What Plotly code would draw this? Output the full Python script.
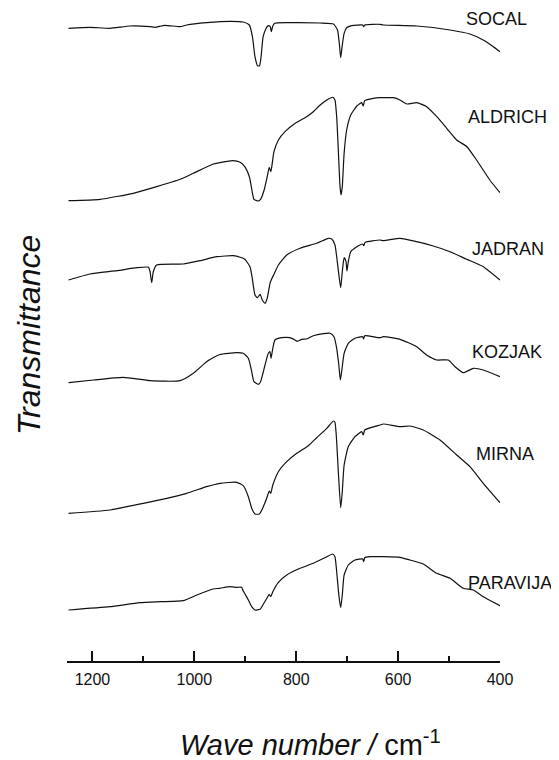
import plotly.graph_objects as go

# ---- data: IR spectra (wavenumber / cm-1, transmittance in arbitrary stacked units) ----
names = ["SOCAL", "ALDRICH", "JADRAN", "KOZJAK", "MIRNA", "PARAVIJA"]

socal_wn = [1247, 1205, 1166, 1126, 1087, 1077, 1058, 1028, 1015, 976, 930, 904, 892, 886, 881, 876, 872,
            869, 865, 859, 855, 851, 849, 846, 842, 819, 753, 727, 719, 715.5, 712.7, 710, 706, 701, 691,
            669.5, 667.6, 665.6, 635.6, 629, 563.5, 498, 459, 433, 413, 400]
socal_t = [632.7, 633.7, 632.7, 635, 634.3, 633.7, 635.7, 634.3, 636, 638.3, 639.7, 639, 636, 624.3, 604.3,
           595.3, 595.3, 604.3, 624.3, 632.7, 635.3, 634.3, 629.3, 635, 637.7, 638.3, 638, 637, 631, 617.7,
           603.3, 614.3, 627.7, 633.3, 635.3, 636, 634.3, 636, 636.7, 636, 635, 631, 627, 621, 614.3, 609.3]

aldrich_wn = [1247, 1185, 1120, 1074, 1028, 1002, 963, 950, 925, 910, 901, 892, 887, 883, 874.5, 870, 863,
              857, 853, 850, 848, 843.7, 835, 822, 802, 779.5, 766.5, 753, 740, 728, 724, 720.6, 717.4, 714,
              712, 709.6, 706, 701, 693, 681, 671.5, 668.4, 665.6, 648.7, 635.6, 629, 609.5, 596.3, 583,
              563.5, 544, 524, 504.6, 485, 465, 446, 420, 400]
aldrich_t = [460.3, 461.7, 467.7, 474.3, 481.7, 487.7, 497, 498.3, 500.3, 498.7, 494.3, 484.3, 471, 461.7,
             460, 461.7, 471, 484.3, 493.7, 489.3, 494.3, 509.3, 521, 529.3, 537.7, 544.3, 549.3, 556, 561,
             563.7, 561, 544.3, 511, 474.3, 466, 474.3, 507.7, 531, 546, 555, 558.3, 555, 560.3, 562.7,
             563.3, 563.3, 563.3, 561, 557, 558.3, 554.3, 544.3, 532.7, 521, 514.3, 501, 481, 468.3]

jadran_wn = [1247, 1205, 1152, 1113, 1090, 1087, 1083.7, 1080.6, 1074, 1022, 989, 956, 923.5, 910, 901,
             890.8, 886.3, 881, 876.4, 871, 866.6, 861.3, 857, 851.5, 847.6, 843.7, 835, 818.7, 792.6,
             759.8, 737, 730.4, 724, 719.4, 715.5, 712.7, 709.6, 706, 702.3, 700.4, 697.8, 693, 681,
             669.5, 667.6, 664.4, 635.6, 629, 596.3, 563.5, 531, 498, 465.4, 432.8, 400]
jadran_t = [381, 387, 390.3, 393.3, 393.7, 389.3, 378.3, 389.3, 396, 397, 400.3, 404.3, 405.3, 403.7, 401.7,
            394.3, 382.7, 366, 363.3, 366.7, 361, 357.7, 362.7, 377.7, 382.7, 386.7, 396, 406, 412.7,
            417.7, 422.7, 422, 416, 399.3, 382.7, 373.3, 389.3, 403.3, 399.3, 390, 399.3, 409.3, 414.3,
            417, 415.3, 418.7, 421, 420.3, 422.7, 419.3, 415, 409.3, 401.7, 394.3, 381]

kozjak_wn = [1247, 1198, 1139.5, 1087, 1028, 1002, 976, 950, 917, 904, 894, 887.4, 883, 874.5, 870, 861.3,
             854.8, 851.5, 849.5, 846, 841.7, 828.5, 812.3, 802.4, 797.9, 789.3, 779.5, 766.5, 746.9,
             733.7, 725.9, 720.6, 716.4, 713.3, 710, 706, 697.8, 684.7, 669.5, 667.6, 665.6, 635.6, 629,
             596.3, 563.5, 544, 524.3, 501.5, 488.4, 472, 452.4, 432.8, 400]
kozjak_t = [278.3, 281, 283.7, 280.3, 280.3, 287.7, 299.3, 306.5, 308.3, 307.7, 302.7, 289.3, 279.3, 276.7,
            279.3, 296, 307.7, 309.3, 302.7, 312.7, 321, 323.3, 323.3, 321, 319.7, 321.7, 322, 325.3,
            327.3, 327.7, 324.3, 312.7, 296, 281, 292.7, 307.7, 317.7, 322.7, 324.3, 322, 325.3, 323.3,
            324.3, 321.7, 314.3, 306, 301, 301, 294.3, 288.3, 292.7, 291, 284.3]

mirna_wn = [1247, 1166, 1100, 1054, 1015, 976, 950, 917, 904, 894, 887.4, 881, 872.5, 866, 858, 853, 850,
            846, 835, 818.7, 799, 776.3, 759.8, 740, 727, 724, 720.6, 717.4, 712.7, 709.6, 706, 697.8,
            684.7, 671.5, 668.4, 665.6, 635.6, 629, 596.3, 576.7, 550.6, 517.8, 485, 459, 432.8, 400]
mirna_t = [147.7, 151, 157.7, 162.7, 167.7, 174.3, 177.7, 178.7, 175.3, 164.3, 152.7, 147, 147, 152.7,
           162.7, 170, 167.7, 176, 189.3, 199.3, 207.7, 215.3, 223.3, 232.7, 240, 238.7, 219.3, 189.3,
           153.3, 169.3, 196, 214.3, 224.3, 229.3, 226, 231, 236, 237, 234.3, 235, 231, 221, 206, 194.3,
           177.7, 158.3]

paravija_wn = [1247, 1166, 1107, 1067, 1022, 995, 963, 950, 930, 917, 907, 905, 894, 887.4, 881, 871,
               864.7, 857, 853, 850, 846, 835, 818.7, 792.6, 766.5, 740, 728.4, 724, 720.6, 716.4, 712.7,
               709.6, 706, 697.8, 684.7, 669.5, 667.6, 665.6, 655, 635.6, 629, 596.3, 576.7, 550.6,
               524.3, 498, 472, 452.4, 432.8, 400]
paravija_t = [51, 54.3, 58.3, 59.3, 60.3, 66, 72, 72.7, 74.3, 73.7, 73.7, 71, 61, 54.3, 51, 51.7, 56.7,
              63.3, 66.7, 64.3, 69.3, 78.7, 86, 92.7, 97.7, 104.3, 107, 104.3, 89.3, 66, 53.3, 66, 86, 96,
              101, 102, 99.3, 103.3, 104.3, 104.3, 104.3, 103.7, 101, 97, 87.7, 82.7, 72.7, 71, 64.3, 55.3]

series = [(socal_wn, socal_t), (aldrich_wn, aldrich_t), (jadran_wn, jadran_t),
          (kozjak_wn, kozjak_t), (mirna_wn, mirna_t), (paravija_wn, paravija_t)]

tick_vals = [1200, 1000, 800, 600, 400]
tick_text = ["1200", "1000", "800", "600", "400"]

# label placement (styling)
label_x = [0.991, 1.018, 1.018, 1.016, 1.012, 1.024]
label_y = [642.5, 544.3, 412, 309, 207, 78]

FONT = "Liberation Sans, Arial, sans-serif"

fig = go.Figure()
for (wn, t), nm in zip(series, names):
    fig.add_trace(go.Scatter(x=wn, y=t, mode="lines", name=nm,
                             line=dict(color="#111111", width=1.2, shape="spline", smoothing=0.5),
                             showlegend=False, hoverinfo="skip"))

for nm, lx, ly in zip(names, label_x, label_y):
    fig.add_annotation(x=lx, y=ly, xref="paper", yref="y", text=nm, showarrow=False,
                       xanchor="center", yanchor="middle",
                       font=dict(family=FONT, size=18, color="#111111"))

fig.add_annotation(x=0.5635, y=-0.125, xref="paper", yref="paper",
                   text="<i>Wave number /</i> cm<sup>-1</sup>", showarrow=False,
                   xanchor="center", yanchor="middle",
                   font=dict(family=FONT, size=29, color="#111111"))
fig.add_annotation(x=-0.088, y=0.499, xref="paper", yref="paper",
                   text="<i>Transmittance</i>", showarrow=False, textangle=-90,
                   xanchor="center", yanchor="middle",
                   font=dict(family=FONT, size=32, color="#111111"))

fig.update_layout(
    width=551, height=752,
    margin=dict(l=59, r=59, t=0, b=99),
    paper_bgcolor="white", plot_bgcolor="white",
    xaxis=dict(range=[1250, 400], tickvals=tick_vals, ticktext=tick_text,
               ticks="inside", ticklen=10, tickwidth=1.5, tickcolor="#111111",
               showline=True, linecolor="#111111", linewidth=1.5,
               showgrid=False, zeroline=False,
               ticklabelstandoff=3,
               tickfont=dict(family=FONT, size=16, color="#111111"),
               minor=dict(tick0=400, dtick=100, ticks="inside", ticklen=5,
                          tickwidth=1.5, tickcolor="#111111", showgrid=False)),
    yaxis=dict(range=[0, 653], visible=False, showgrid=False, zeroline=False),
)

fig.write_html("out.html")
